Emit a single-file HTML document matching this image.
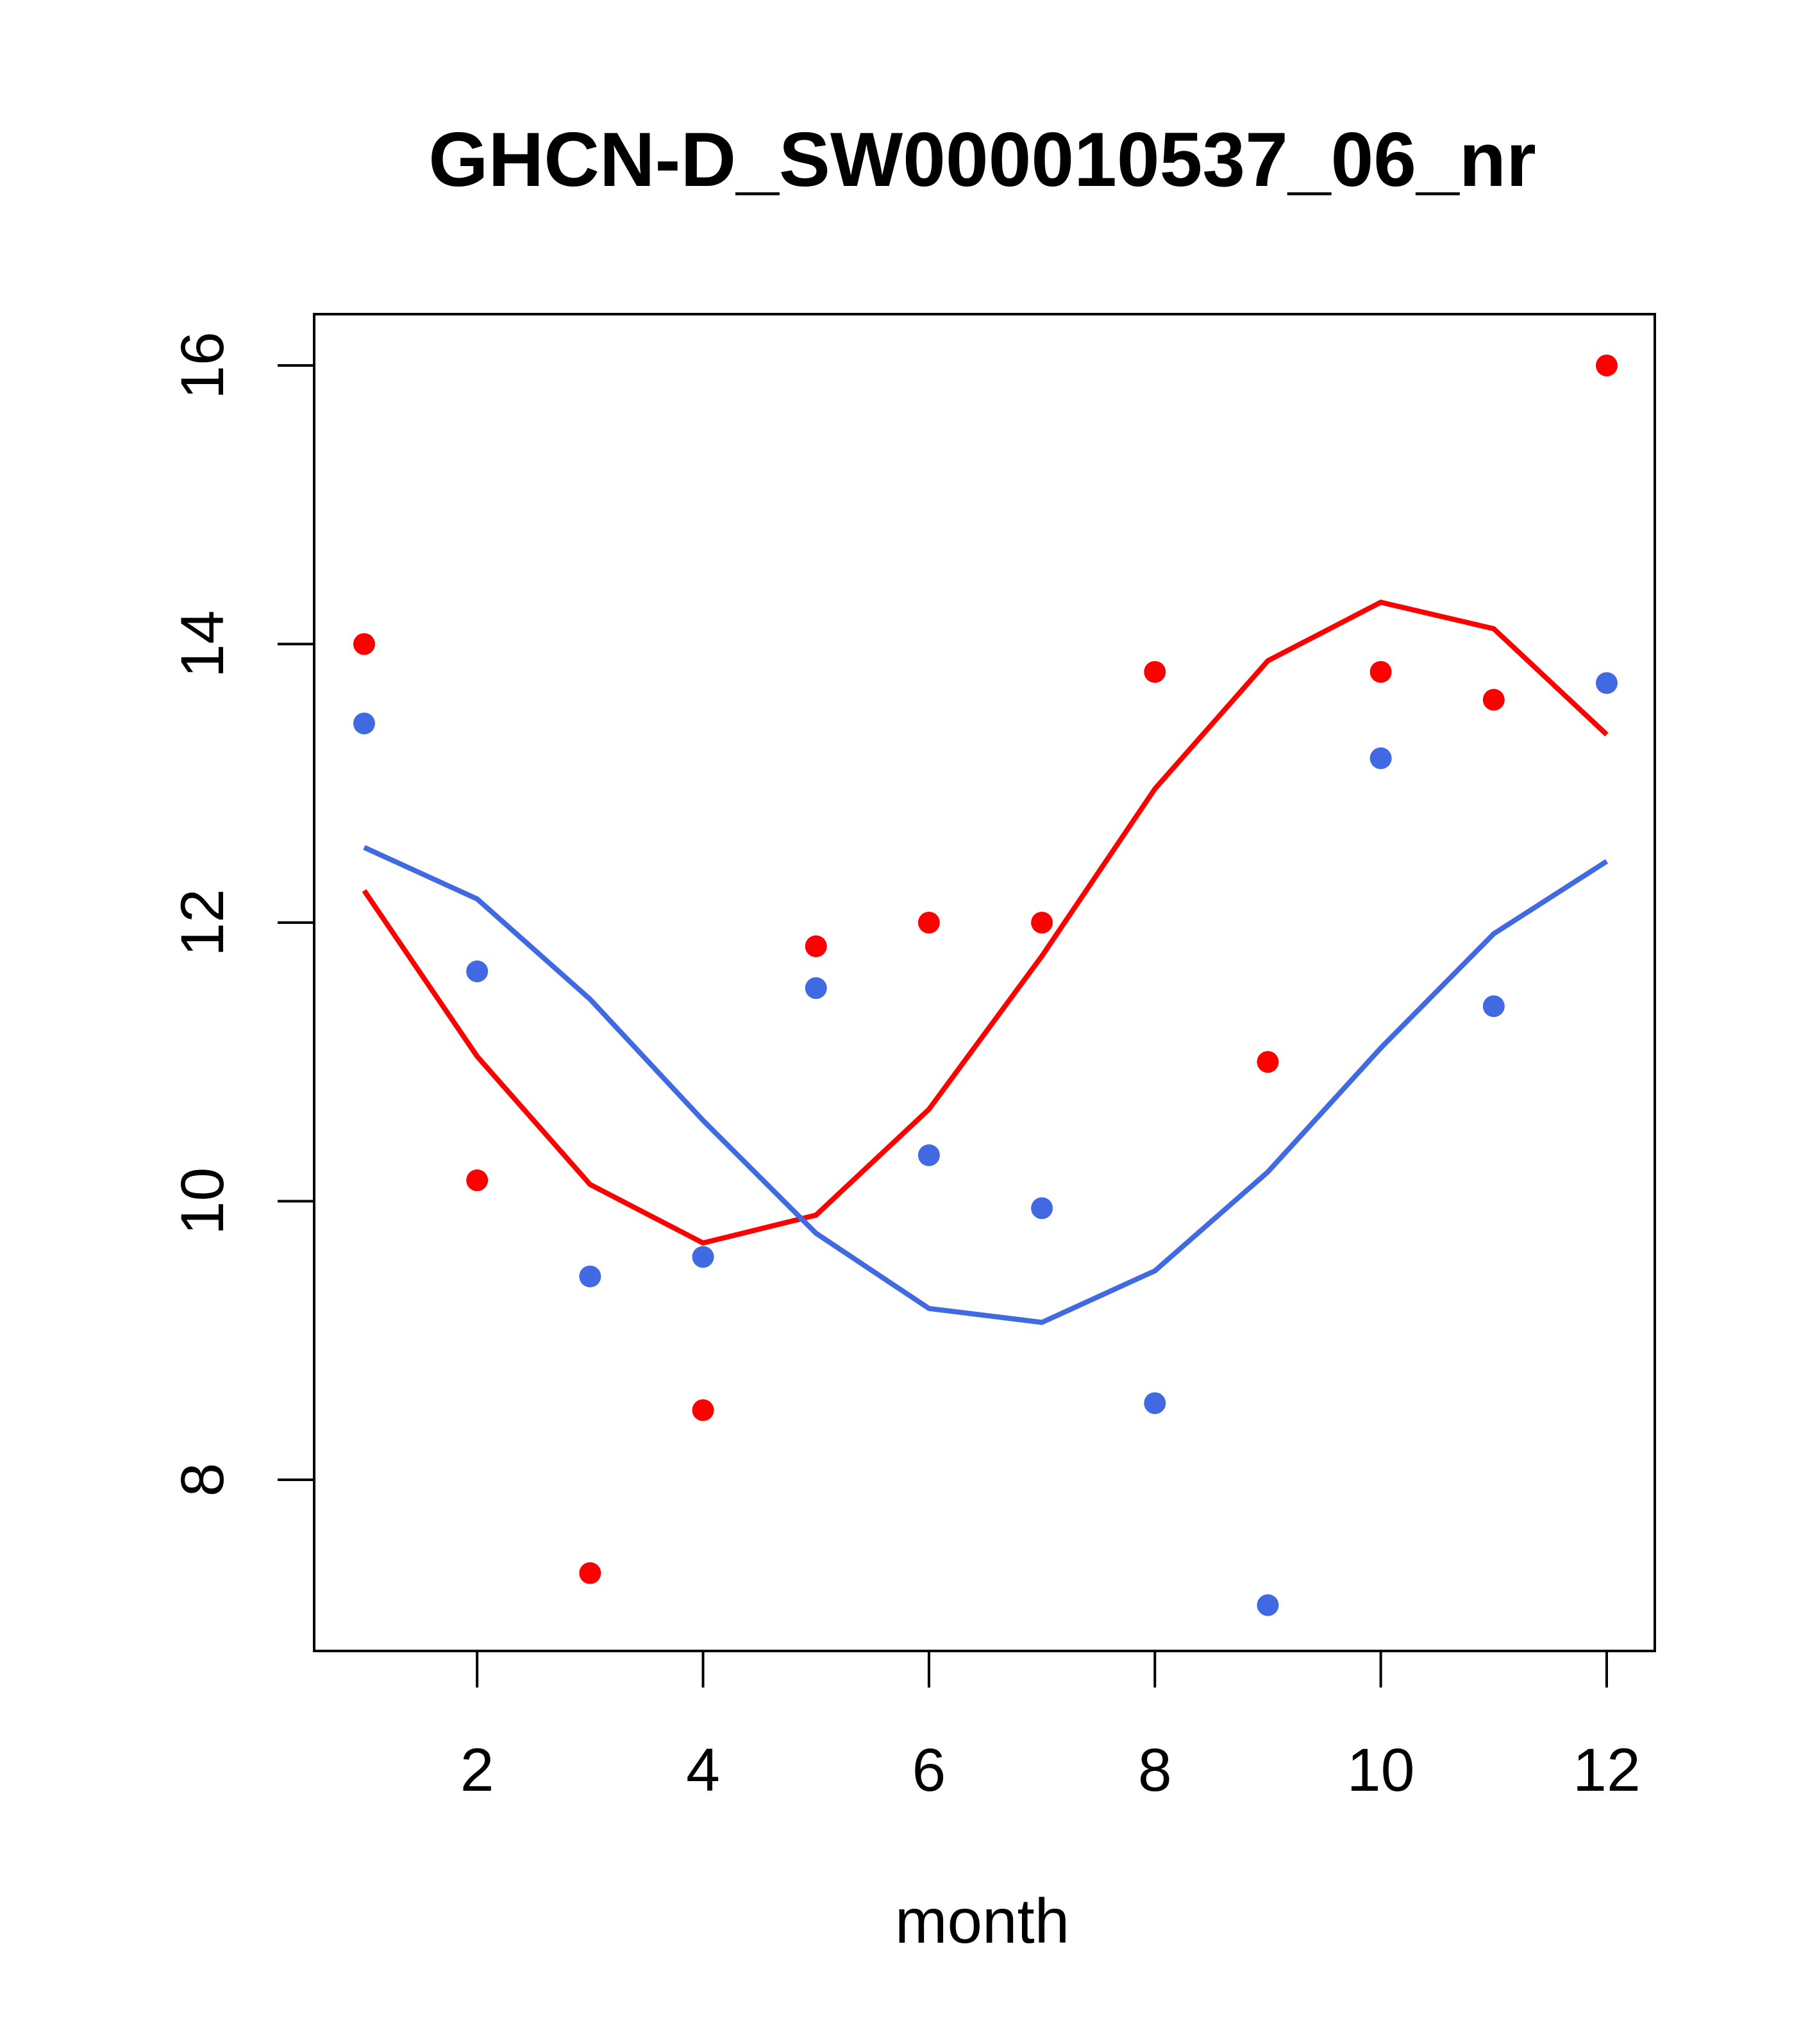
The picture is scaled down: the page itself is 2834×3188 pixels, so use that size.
<!DOCTYPE html>
<html><head><meta charset="utf-8"><style>body{margin:0;background:#fff}svg{display:block}text{font-family:"Liberation Sans",Arial,sans-serif}</style></head>
<body>
<svg id="chart" width="2834" height="3188" xmlns="http://www.w3.org/2000/svg">
<rect width="2834" height="3188" fill="#fff"/>
<text x="1532" y="290" font-size="120" font-weight="bold" text-anchor="middle">GHCN-D_SW000010537_06_nr</text>
<rect x="490" y="490" width="2091" height="2085" fill="none" stroke="#000" stroke-width="4"/>
<text x="1532" y="3030" font-size="98" text-anchor="middle">month</text>
<g id="axes"></g><g id="series"></g>
</svg>
<script>
const months=[1,2,3,4,5,6,7,8,9,10,11,12];
const redPoints=[14.0,10.15,7.33,8.5,11.83,12.0,12.0,13.8,11.0,13.8,13.6,16.0];
const bluePoints=[13.43,11.65,9.46,9.6,11.53,10.33,9.95,8.55,7.1,13.18,11.4,13.72];
const redLine=[12.23,11.04,10.12,9.70,9.90,10.66,11.76,12.96,13.88,14.30,14.11,13.35];
const blueLine=[12.54,12.17,11.45,10.58,9.77,9.23,9.13,9.50,10.21,11.10,11.92,12.44];
const xTicks=[2,4,6,8,10,12];
const yTicks=[8,10,12,14,16];
const NS="http://www.w3.org/2000/svg";
function X(m){return 568+(m-1)*(2506-568)/11;}
function Y(v){return 2308-(v-8)*(2308-570)/8;}
function mk(t,a){const e=document.createElementNS(NS,t);for(const k in a)e.setAttribute(k,a[k]);return e;}
const ax=document.getElementById('axes'),se=document.getElementById('series');
xTicks.forEach(t=>{
 const l=mk('line',{x1:X(t),x2:X(t),y1:2575,y2:2632,stroke:'#000','stroke-width':4});
 
 
 ax.appendChild(l);
 const tx=mk('text',{x:X(t),y:2793,'font-size':95,'text-anchor':'middle'});tx.textContent=t;
 
 
 ax.appendChild(tx);
});
yTicks.forEach(t=>{
 const l=mk('line',{x1:433,x2:490,y1:Y(t),y2:Y(t),stroke:'#000','stroke-width':4});
 
 
 ax.appendChild(l);
 const tx=mk('text',{x:0,y:0,'font-size':95,'text-anchor':'middle',transform:`translate(348,${Y(t)}) rotate(-90)`});tx.textContent=t;
 
 
 ax.appendChild(tx);
});
function line(vals,col,name){
 const p=mk('polyline',{points:vals.map((v,i)=>X(months[i])+','+Y(v)).join(' '),fill:'none',stroke:col,'stroke-width':8});
 
 
 se.appendChild(p);
}
function pts(vals,col,name){
 vals.forEach((v,i)=>{
  const c=mk('circle',{cx:X(months[i]),cy:Y(v),r:17,fill:col});
  
  
  se.appendChild(c);
 });
}
line(redLine,'#FF0000','red-smooth-line');
line(blueLine,'#4169E1','blue-smooth-line');
pts(redPoints,'#FF0000','red-point');
pts(bluePoints,'#4169E1','blue-point');
</script>
</body></html>
